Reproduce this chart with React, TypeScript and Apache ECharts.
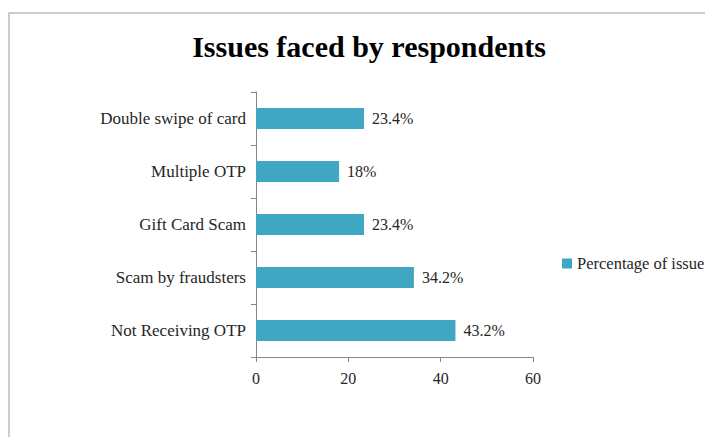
import React, { useEffect, useRef } from "react";
import * as echarts from "echarts";

const categories = ["Not Receiving OTP", "Scam by fraudsters", "Gift Card Scam", "Multiple OTP", "Double swipe of card"];
const values = [43.2, 34.2, 23.4, 18, 23.4];
const seriesName = "Percentage of issue";
const titleText = "Issues faced by respondents";

export default function App() {
  const ref = useRef<HTMLDivElement>(null);
  useEffect(() => {
    if (!ref.current) return;
    const chart = echarts.init(ref.current, null, { renderer: "svg" });
    const font = "Liberation Serif";
    chart.setOption({
      animation: false,
      backgroundColor: "#ffffff",
      textStyle: { fontFamily: font },
      title: {
        text: titleText,
        left: 364,
        textAlign: "center",
        top: 26,
        textStyle: { fontFamily: font, fontSize: 30, fontWeight: "bold", color: "#000000" },
      },
      graphic: [
        {
          type: "rect",
          shape: { x: 9, y: 13, width: 720, height: 440 },
          style: { fill: "none", stroke: "#bdbdbd", lineWidth: 1.5 },
          silent: true,
        },
      ],
      legend: {
        left: 557,
        top: 250,
        itemWidth: 10,
        itemHeight: 10,
        itemGap: 5,
        icon: "rect",
        textStyle: { fontFamily: font, fontSize: 16.5, color: "#262626" },
        data: [seriesName],
      },
      grid: { left: 256, right: 172, top: 92, bottom: 80, containLabel: false },
      xAxis: {
        type: "value",
        min: 0,
        max: 60,
        interval: 20,
        axisLine: { show: true, lineStyle: { color: "#868686" } },
        axisTick: { show: true, length: 5, lineStyle: { color: "#868686" } },
        axisLabel: { fontFamily: font, fontSize: 16, color: "#262626", margin: 13 },
        splitLine: { show: false },
      },
      yAxis: {
        type: "category",
        data: categories,
        axisLine: { show: true, lineStyle: { color: "#868686" } },
        axisTick: { show: true, length: 5, lineStyle: { color: "#868686" } },
        axisLabel: { fontFamily: font, fontSize: 17, color: "#262626", margin: 10 },
      },
      series: [
        {
          name: seriesName,
          type: "bar",
          data: values,
          barCategoryGap: "60%",
          itemStyle: { color: "#3fa7c1" },
          label: {
            show: true,
            position: "right",
            distance: 8,
            formatter: "{c}%",
            fontFamily: font,
            fontSize: 16,
            color: "#262626",
          },
        },
      ],
    });
    return () => chart.dispose();
  }, []);
  return <div ref={ref} style={{ position: "fixed", left: 0, top: 0, width: 705, height: 437 }} />;
}
